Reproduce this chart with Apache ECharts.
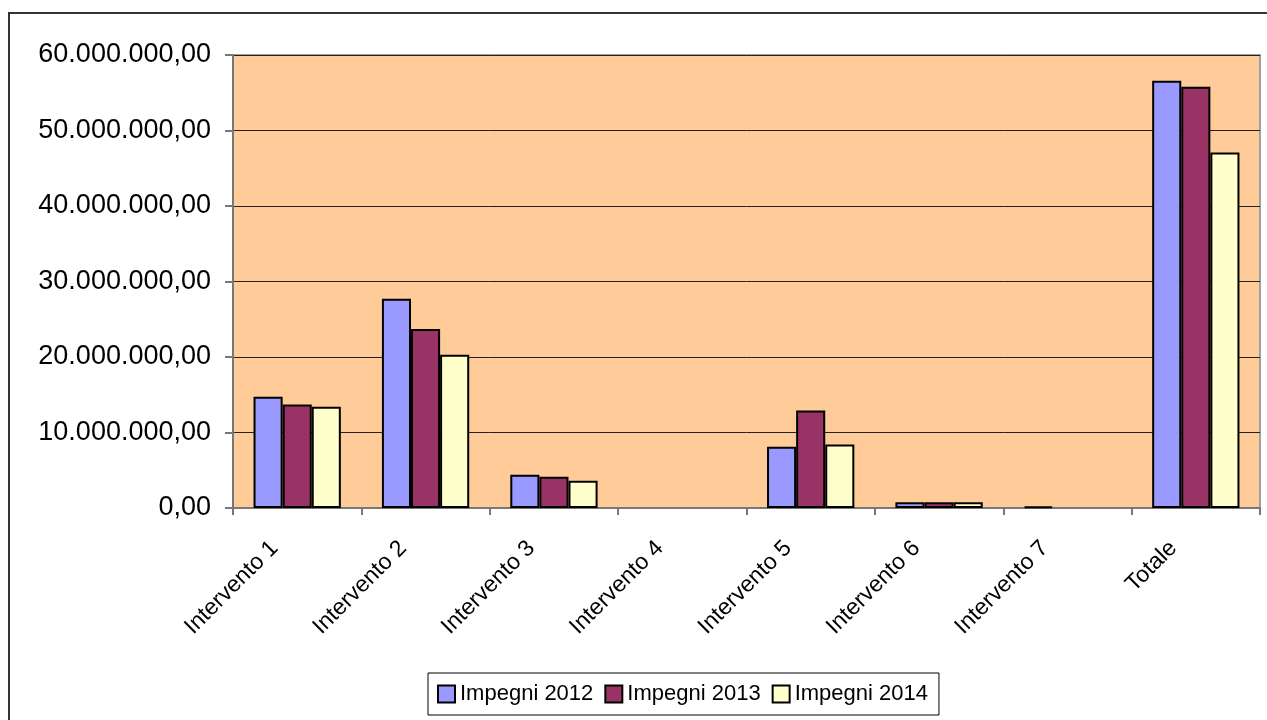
<!DOCTYPE html>
<html>
<head>
<meta charset="utf-8">
<script src="https://cdn.jsdelivr.net/npm/echarts@6/dist/echarts.min.js"></script>
<style>
html,body{margin:0;padding:0;background:#fff;}
#chart{width:1267px;height:720px;}
</style>
</head>
<body>
<div id="chart"></div>
<script>
var categories = ['Intervento 1','Intervento 2','Intervento 3','Intervento 4','Intervento 5','Intervento 6','Intervento 7','Totale'];
var seriesNames = ['Impegni 2012','Impegni 2013','Impegni 2014'];
var impegni2012 = [14750000, 27700000, 4400000, 0, 8100000, 750000, 200000, 56600000];
var impegni2013 = [13700000, 23700000, 4150000, 0, 12900000, 750000, 0, 55800000];
var impegni2014 = [13400000, 20300000, 3600000, 0, 8400000, 750000, 0, 47100000];
var yTicks = [0, 10000000, 20000000, 30000000, 40000000, 50000000, 60000000];

var colors = ['#9999FF', '#993366', '#FFFFCC'];
var FONT = '"Liberation Sans", Arial, sans-serif';

function fmt(v) {
  var s = Math.round(v).toString().replace(/\B(?=(\d{3})+(?!\d))/g, '.');
  return s + ',00';
}
function disp(arr) { return arr.map(function (v) { return v === 0 ? '-' : v; }); }

var all = [impegni2012, impegni2013, impegni2014];
var chart = echarts.init(document.getElementById('chart'), null, {renderer: 'canvas'});
chart.setOption({
  animation: false,
  backgroundColor: '#ffffff',
  textStyle: {fontFamily: FONT},
  graphic: [{
    type: 'rect',
    shape: {x: 9, y: 13, width: 1400, height: 900},
    style: {fill: 'none', stroke: '#333', lineWidth: 2},
    silent: true, z: 100
  }],
  grid: {
    left: 233, top: 55, width: 1027, height: 453,
    show: true, backgroundColor: '#FFCC99', borderColor: '#A0A0A0', borderWidth: 2
  },
  legend: {
    left: 428, top: 673,
    padding: [10, 11, 10, 9],
    itemGap: 11,
    itemWidth: 17, itemHeight: 17,
    icon: 'rect',
    borderColor: '#000', borderWidth: 1,
    textStyle: {fontFamily: FONT, fontSize: 22, color: '#000'},
    data: seriesNames
  },
  xAxis: {
    type: 'category',
    data: categories,
    axisLine: {lineStyle: {color: '#777', width: 2}},
    axisTick: {show: true, length: 7, lineStyle: {color: '#777', width: 2}},
    axisLabel: {rotate: 45, margin: 14, padding: [0, 32, 0, 0], fontSize: 23, color: '#000', fontFamily: FONT, interval: 0}
  },
  yAxis: {
    type: 'value',
    min: 0, max: 60000000, interval: 10000000,
    axisLine: {show: true, lineStyle: {color: '#777', width: 2}},
    axisTick: {show: true, length: 8, lineStyle: {color: '#777', width: 2}},
    axisLabel: {margin: 22, fontSize: 27, color: '#000', fontFamily: FONT, formatter: function (v) { return yTicks.indexOf(v) >= 0 ? fmt(v) : ''; }},
    splitLine: {lineStyle: {color: '#222', width: 1}}
  },
  series: seriesNames.map(function (name, i) {
    return {
      name: name,
      type: 'bar',
      data: disp(all[i]),
      barGap: '0%',
      barCategoryGap: '32%',
      itemStyle: {color: colors[i], borderColor: '#000', borderWidth: 2}
    };
  })
});
</script>
</body>
</html>
